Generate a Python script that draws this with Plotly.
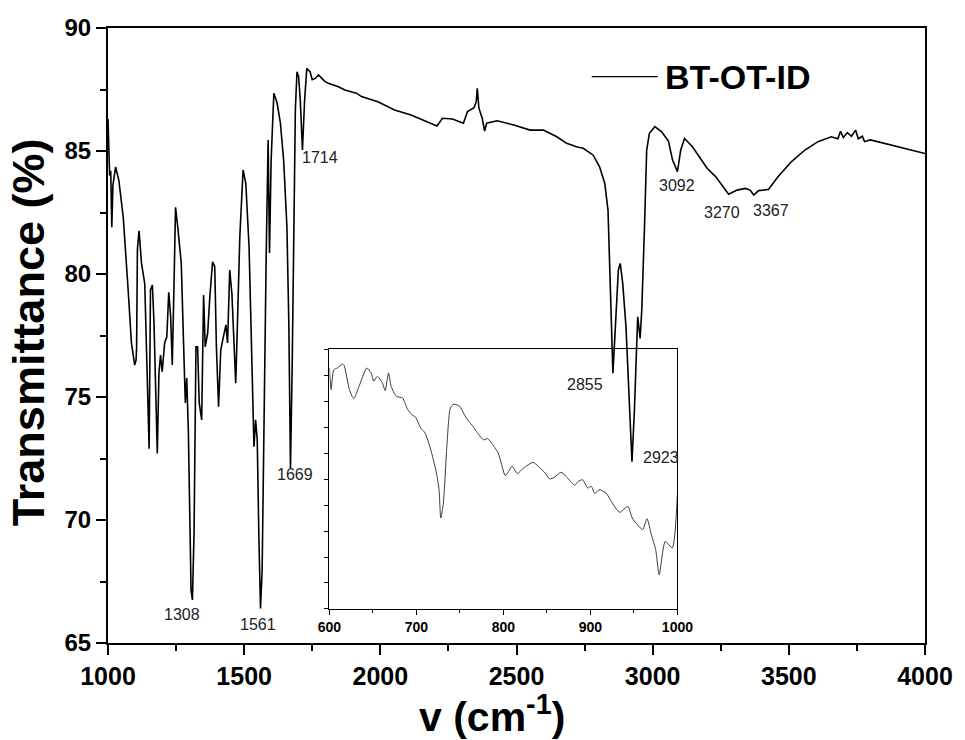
import plotly.graph_objects as go

# Main FTIR spectrum (wavenumber, transmittance %)
wavenumber = [1000, 1006, 1010, 1014, 1018, 1028, 1040, 1056, 1074, 1086, 1098, 1103, 1105, 1108, 1114,
              1123, 1135, 1143, 1151, 1156, 1163, 1169, 1175, 1181, 1187, 1193, 1199, 1208, 1216, 1223,
              1230, 1236, 1242, 1248, 1256, 1269, 1281, 1284, 1289, 1295, 1305, 1310, 1316, 1323, 1329,
              1335, 1344, 1351, 1357, 1366, 1374, 1384, 1392, 1398, 1406, 1414, 1420, 1426, 1433, 1439,
              1447, 1455, 1463, 1469, 1475, 1484, 1496, 1506, 1518, 1527, 1536, 1542, 1548, 1554, 1560,
              1566, 1572, 1581, 1588, 1593, 1599, 1609, 1621, 1633, 1645, 1657, 1664, 1670, 1676, 1682,
              1688, 1694, 1700, 1706, 1714, 1722, 1730, 1742, 1750, 1761, 1773, 1797, 1809, 1846, 1870,
              1912, 1931, 1991, 2052, 2113, 2174, 2208, 2228, 2265, 2305, 2320, 2344, 2352, 2356, 2362,
              2374, 2383, 2390, 2429, 2490, 2550, 2599, 2648, 2684, 2720, 2745, 2781, 2805, 2824, 2836,
              2842, 2848, 2854, 2860, 2866, 2874, 2881, 2890, 2902, 2914, 2924, 2933, 2939, 2945, 2954,
              2960, 2970, 2978, 2988, 3008, 3033, 3058, 3073, 3091, 3103, 3117, 3146, 3176, 3200, 3231,
              3261, 3279, 3310, 3340, 3358, 3371, 3389, 3425, 3461, 3510, 3559, 3607, 3656, 3680, 3690,
              3700, 3715, 3730, 3745, 3755, 3770, 3778, 3800, 3826, 3850, 3875, 3900, 3923, 3960, 4000]
transmittance = [86.3, 84.0, 84.2, 81.9, 83.6, 84.35, 83.8, 82.3, 79.35, 77.2, 76.3, 76.5, 77.0, 81.0, 81.76,
                 80.44, 79.6, 76.6, 72.9, 79.35, 79.55, 78.0, 74.6, 72.7, 75.97, 76.7, 76.03, 77.2, 77.45, 79.26,
                 78.27, 76.3, 79.35, 82.71, 81.92, 80.44, 75.83, 74.76, 75.77, 73.66, 67.15, 66.75, 69.5, 77.04, 77.04,
                 74.76, 74.07, 79.15, 77.04, 77.6, 79.08, 80.5, 80.3, 77.04, 74.6, 76.9, 77.25, 77.6, 77.93, 77.2,
                 80.16, 79.2, 76.9, 75.56, 77.86, 81.5, 84.23, 83.69, 81.1, 76.8, 72.98, 74.07, 73.25, 69.3, 66.4,
                 67.97, 74.07, 80.84, 85.45, 80.85, 84.63, 87.35, 86.95, 86.13, 84.63, 81.92, 78.0, 72.1, 76.0, 81.4,
                 86.7, 88.22, 88.02, 87.07, 85.04, 87.07, 88.36, 88.22, 87.9, 87.95, 88.09, 87.82, 87.75, 87.61, 87.48,
                 87.35, 87.21, 87.0, 86.67, 86.46, 86.19, 86.02, 86.33, 86.3, 86.13, 86.6, 86.76, 87.0, 87.55, 86.74,
                 86.33, 85.81, 86.13, 86.23, 86.06, 85.85, 85.85, 85.58, 85.31, 85.17, 85.11, 84.84, 84.36, 83.69, 82.6,
                 80.57, 77.86, 75.97, 77.2, 78.54, 80.16, 80.43, 79.62, 77.86, 75.15, 72.37, 74.47, 76.91, 78.26, 77.38,
                 78.54, 81.92, 85.04, 85.72, 85.99, 85.78, 85.4, 84.63, 84.16, 85.04, 85.51, 85.17, 84.7, 84.3, 83.96,
                 83.48, 83.24, 83.41, 83.48, 83.41, 83.21, 83.39, 83.44, 83.96, 84.57, 85.04, 85.38, 85.58, 85.5, 85.8,
                 85.55, 85.75, 85.6, 85.85, 85.5, 85.6, 85.38, 85.45, 85.38, 85.3, 85.24, 85.15, 85.11, 85.01, 84.9]

# Inset spectrum (600-1000 cm-1, arbitrary units)
inset_wn = [600, 602, 605, 609, 615, 617, 623, 628, 634, 643, 648, 651, 655, 661, 664, 668, 671, 677, 684,
            690, 695, 699, 705, 710, 718, 723, 726, 728, 731, 735, 739, 743, 750, 754, 760, 765, 769, 777,
            782, 789, 794, 798, 802, 806, 810, 816, 823, 834, 840, 848, 853, 859, 866, 872, 877, 882, 886,
            891, 897, 901, 905, 910, 918, 924, 929, 934, 943, 948, 954, 960, 965, 970, 975, 979, 986, 994, 1000]
inset_val = [9.27, 8.44, 9.2, 9.27, 9.42, 9.36, 8.44, 8.09, 8.56, 9.27, 9.08, 8.76, 8.95, 8.69, 8.40, 9.08,
             8.56, 8.18, 8.12, 7.67, 7.47, 7.38, 6.96, 6.77, 5.94, 5.23, 4.59, 3.5, 4.08, 6.26, 7.73, 7.88,
             7.79, 7.54, 7.22, 7.03, 6.83, 6.51, 6.55, 6.26, 6.0, 5.55, 5.13, 5.29, 5.49, 5.21, 5.42, 5.64,
             5.49, 5.23, 5.0, 5.08, 5.26, 5.1, 4.91, 4.76, 4.91, 4.97, 4.65, 4.72, 4.44, 4.59, 4.46, 4.14,
             3.88, 3.72, 3.95, 3.5, 3.24, 3.05, 3.47, 2.86, 2.28, 1.32, 2.60, 2.35, 4.46]

peak_labels = ["1714", "1308", "1561", "1669", "2855", "2923", "3092", "3270", "3367"]
peak_label_x = [1780, 1270, 1550, 1685, 2750, 3030, 3089, 3253, 3435]
peak_label_y = [84.72, 66.14, 65.77, 71.83, 75.49, 72.56, 83.58, 82.52, 82.6]

series_name = "BT-OT-ID"
x_title = "v (cm<sup>-1</sup>)"
y_title = "Transmittance (%)"

FONT = "Arial, 'Liberation Sans', sans-serif"

fig = go.Figure()
fig.add_trace(go.Scatter(x=wavenumber, y=transmittance, mode="lines",
                         line=dict(color="black", width=1.6), name=series_name,
                         showlegend=False, xaxis="x", yaxis="y"))
fig.add_trace(go.Scatter(x=inset_wn, y=inset_val, mode="lines",
                         line=dict(color="#3a3a3a", width=1, shape="spline", smoothing=0.6),
                         showlegend=False, xaxis="x2", yaxis="y2"))

for t, x, y in zip(peak_labels, peak_label_x, peak_label_y):
    fig.add_annotation(x=x, y=y, xref="x", yref="y", text=t, showarrow=False,
                       font=dict(family=FONT, size=16, color="#222"))

# legend drawn as line + text
fig.add_shape(type="line", xref="paper", yref="paper", x0=0.592, x1=0.673, y0=0.921, y1=0.921,
              line=dict(color="black", width=1.3))
fig.add_annotation(xref="paper", yref="paper", x=0.679, y=0.921, xanchor="left", yanchor="middle",
                   text="<b>" + series_name + "</b>", showarrow=False,
                   font=dict(family=FONT, size=34, color="black"))

# axis titles
fig.add_annotation(xref="paper", yref="paper", x=0.470, y=-0.116, xanchor="center", yanchor="middle",
                   text="<b>" + x_title + "</b>", showarrow=False,
                   font=dict(family=FONT, size=41, color="black"))
fig.add_annotation(xref="paper", yref="paper", x=-0.097, y=0.505, xanchor="center", yanchor="middle",
                   text="<b>" + y_title + "</b>", showarrow=False, textangle=-90,
                   font=dict(family=FONT, size=45, color="black"))

fig.update_layout(
    width=965, height=740, autosize=False,
    margin=dict(l=108, r=34, t=28, b=97),
    paper_bgcolor="white", plot_bgcolor="rgba(0,0,0,0)",
    font=dict(family=FONT, color="black"),
    xaxis=dict(range=[1000, 4000], dtick=500, tick0=1000, showgrid=False, zeroline=False,
               showline=True, linecolor="black", linewidth=2, mirror=True,
               ticks="outside", ticklen=10, tickwidth=1.5, tickcolor="black",
               minor=dict(dtick=250, ticks="outside", ticklen=6, tickwidth=1.5, tickcolor="black"),
               tickfont=dict(family=FONT, size=25, color="black", weight="bold")),
    yaxis=dict(range=[65, 90], dtick=5, tick0=65, showgrid=False, zeroline=False,
               showline=True, linecolor="black", linewidth=2, mirror=True,
               ticks="outside", ticklen=10, tickwidth=1.5, tickcolor="black",
               minor=dict(dtick=2.5, ticks="outside", ticklen=6, tickwidth=1.5, tickcolor="black"),
               tickfont=dict(family=FONT, size=24, color="black", weight="bold")),
    xaxis2=dict(domain=[0.271, 0.697], anchor="y2", range=[600, 1000], dtick=100, tick0=600,
                showgrid=False, zeroline=False, showline=True, linecolor="black", linewidth=1, mirror=True,
                ticks="outside", ticklen=5, tickwidth=1, tickcolor="black",
                minor=dict(dtick=50, ticks="outside", ticklen=3, tickwidth=1, tickcolor="black"),
                tickfont=dict(family=FONT, size=14, color="black", weight="bold")),
    yaxis2=dict(domain=[0.0553, 0.478], anchor="x2", range=[0, 10], dtick=1, showgrid=False,
                zeroline=False, showline=True, linecolor="black", linewidth=1, mirror=True,
                ticks="outside", ticklen=4, tickwidth=1, tickcolor="black", showticklabels=False),
)

fig.write_html("out.html", config={"displayModeBar": False},
               post_script="document.body.style.margin='0';document.body.style.overflow='hidden';")
